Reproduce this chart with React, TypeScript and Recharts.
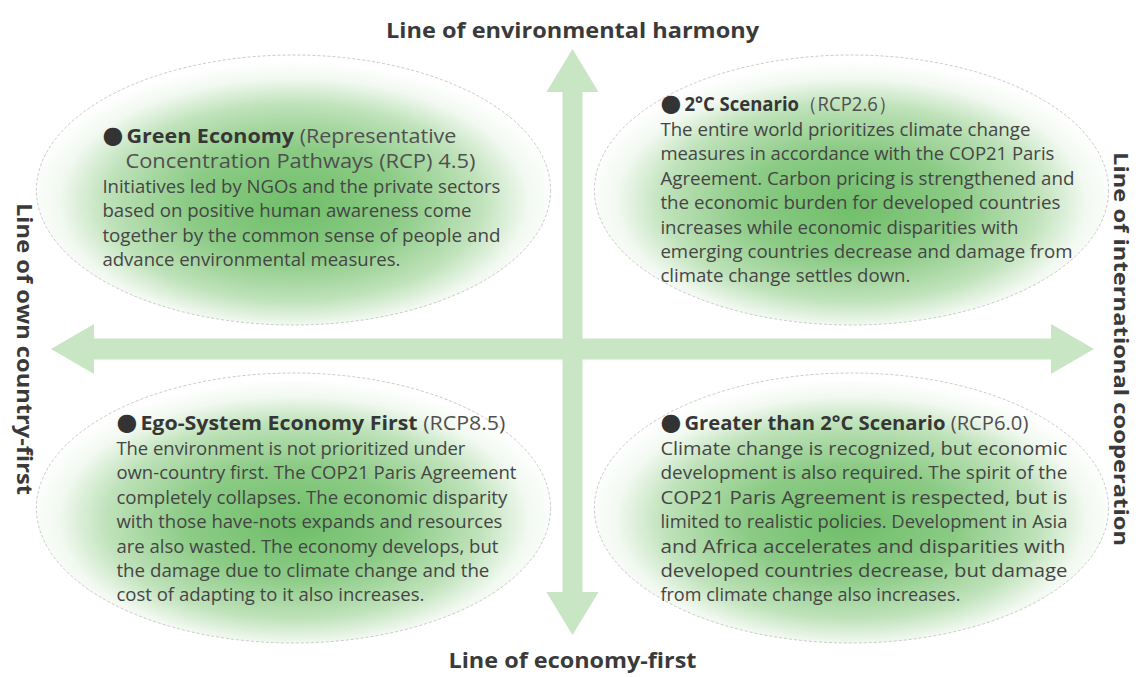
import React from 'react';
import { ScatterChart, XAxis, YAxis, ReferenceArea } from 'recharts';

// ---------------- data ----------------
const axisTopLabel = 'Line of environmental harmony';
const axisBottomLabel = 'Line of economy-first';
const axisLeftLabel = 'Line of own country-first';
const axisRightLabel = 'Line of international cooperation';

// quadrant placement: sign of x (international cooperation +) and y (environmental harmony +)
const scenarioXSign = [-1, 1, -1, 1];
const scenarioYSign = [1, 1, -1, -1];
const scenarioTitles = ['Green Economy', '2°C Scenario', 'Ego-System Economy First', 'Greater than 2°C Scenario'];
const scenarioCodes = [' (Representative', '（RCP2.6）', ' (RCP8.5)', ' (RCP6.0)'];
const scenarioSubtitles = ['Concentration Pathways (RCP) 4.5)', '', '', ''];
const scenarioBodies = [
  [
    'Initiatives led by NGOs and the private sectors',
    'based on positive human awareness come',
    'together by the common sense of people and',
    'advance environmental measures.',
  ],
  [
    'The entire world prioritizes climate change',
    'measures in accordance with the COP21 Paris',
    'Agreement. Carbon pricing is strengthened and',
    'the economic burden for developed countries',
    'increases while economic disparities with',
    'emerging countries decrease and damage from',
    'climate change settles down.',
  ],
  [
    'The environment is not prioritized under',
    'own-country first. The COP21 Paris Agreement',
    'completely collapses. The economic disparity',
    'with those have-nots expands and resources',
    'are also wasted. The economy develops, but',
    'the damage due to climate change and the',
    'cost of adapting to it also increases.',
  ],
  [
    'Climate change is recognized, but economic',
    'development is also required. The spirit of the',
    'COP21 Paris Agreement is respected, but is',
    'limited to realistic policies. Development in Asia',
    'and Africa accelerates and disparities with',
    'developed countries decrease, but damage',
    'from climate change also increases.',
  ],
];

// ---------------- layout / style ----------------
const W = 1138;
const H = 677;
const MARGIN = { top: 49, right: 44, bottom: 28, left: 51 };
const FONT = "'Open Sans', 'Noto Sans', sans-serif";
const ARROW_COLOR = '#c9e6c4';
const ELLIPSE_CX = 0.535;
const ELLIPSE_CY = 0.53;
const ELLIPSE_RX = 0.493;
const ELLIPSE_RY = 0.45;
const ARROW_BOTTOM = -0.953;
const V_HEAD = 0.05;
const H_HEAD = 0.083;
const LINE_H = 24.4;

const textLayouts = [
  { dx: 66, head: 88, sub: 113, subDx: 23, body: 138, headW: 330, subW: 350, bodyW: [398, 369, 398, 298] },
  { dx: 66, head: 56, sub: 0, subDx: 0, body: 81, headW: 212, subW: 0, bodyW: [370, 394, 414, 400, 358, 412, 250] },
  { dx: 80, head: 57, sub: 0, subDx: 0, body: 82, headW: 365, subW: 0, bodyW: [349, 400, 391, 386, 382, 373, 308] },
  { dx: 66, head: 57, sub: 0, subDx: 0, body: 82, headW: 344, subW: 0, bodyW: [407, 407, 407, 407, 405, 407, 300] },
];

const makeEllipseShape = (i: number) => (props: any) => {
  const { x, y, width, height } = props;
  const L = textLayouts[i];
  const tx = x + L.dx;
  const gid = `scenario-grad-${i}`;
  return (
    <g>
      <defs>
        <radialGradient id={gid} cx="50%" cy="54%" r="52%" fx="50%" fy="56%">
          <stop offset="0%" stopColor="#6fbe69" />
          <stop offset="40%" stopColor="#8ccb86" />
          <stop offset="70%" stopColor="#bfe2ba" />
          <stop offset="88%" stopColor="#f2f9f1" />
          <stop offset="100%" stopColor="#ffffff" />
        </radialGradient>
      </defs>
      <ellipse
        cx={x + width / 2}
        cy={y + height / 2}
        rx={width / 2}
        ry={height / 2}
        fill={`url(#${gid})`}
        stroke="#bdbdbd"
        strokeWidth={0.8}
        strokeDasharray="3 2"
      />
      <text x={tx} y={y + L.head} fontFamily="'DejaVu Sans', sans-serif" fontSize={24} fill="#333">
        ●
      </text>
      <text
        x={tx + 24}
        y={y + L.head}
        fontFamily={FONT}
        fontSize={20}
        textLength={L.headW}
        lengthAdjust="spacingAndGlyphs"
      >
        <tspan fontWeight="bold" fill="#363636">{scenarioTitles[i]}</tspan>
        <tspan fill="#505050">{scenarioCodes[i]}</tspan>
      </text>
      {scenarioSubtitles[i] ? (
        <text
          x={tx + L.subDx}
          y={y + L.sub}
          fontFamily={FONT}
          fontSize={20}
          fill="#505050"
          textLength={L.subW}
          lengthAdjust="spacingAndGlyphs"
        >
          {scenarioSubtitles[i]}
        </text>
      ) : null}
      {scenarioBodies[i].map((line, k) => (
        <text
          key={k}
          x={tx}
          y={y + L.body + k * LINE_H}
          fontFamily={FONT}
          fontSize={18.5}
          fill="#454545"
          textLength={L.bodyW[k]}
          lengthAdjust="spacingAndGlyphs"
        >
          {line}
        </text>
      ))}
    </g>
  );
};

const VerticalArrow = (props: any) => {
  const { x, y, width, height } = props;
  const cx = x + width / 2;
  const headLen = 43;
  const sh = 10;
  const pts = [
    [cx, y],
    [x + width, y + headLen],
    [cx + sh, y + headLen],
    [cx + sh, y + height - headLen],
    [x + width, y + height - headLen],
    [cx, y + height],
    [x, y + height - headLen],
    [cx - sh, y + height - headLen],
    [cx - sh, y + headLen],
    [x, y + headLen],
  ]
    .map((p) => p.join(','))
    .join(' ');
  return (
    <g>
      <polygon points={pts} fill={ARROW_COLOR} />
      <text
        x={cx}
        y={y - 11}
        textAnchor="middle"
        fontFamily={FONT}
        fontWeight="bold"
        fontSize={22}
        fill="#3a3a3a"
        textLength={373}
        lengthAdjust="spacingAndGlyphs"
      >
        {axisTopLabel}
      </text>
      <text
        x={cx}
        y={y + height + 33}
        textAnchor="middle"
        fontFamily={FONT}
        fontWeight="bold"
        fontSize={22}
        fill="#3a3a3a"
        textLength={248}
        lengthAdjust="spacingAndGlyphs"
      >
        {axisBottomLabel}
      </text>
    </g>
  );
};

const HorizontalArrow = (props: any) => {
  const { x, y, width, height } = props;
  const cy = y + height / 2;
  const headLen = 43;
  const sh = 10.5;
  const pts = [
    [x, cy],
    [x + headLen, y],
    [x + headLen, cy - sh],
    [x + width - headLen, cy - sh],
    [x + width - headLen, y],
    [x + width, cy],
    [x + width - headLen, y + height],
    [x + width - headLen, cy + sh],
    [x + headLen, cy + sh],
    [x + headLen, y + height],
  ]
    .map((p) => p.join(','))
    .join(' ');
  const lx = x - 34;
  const rx = x + width + 20;
  return (
    <g>
      <polygon points={pts} fill={ARROW_COLOR} />
      <text
        x={lx}
        y={cy}
        transform={`rotate(90, ${lx}, ${cy})`}
        textAnchor="middle"
        fontFamily={FONT}
        fontWeight="bold"
        fontSize={21}
        fill="#3a3a3a"
        textLength={292}
        lengthAdjust="spacingAndGlyphs"
      >
        {axisLeftLabel}
      </text>
      <text
        x={rx}
        y={cy}
        transform={`rotate(90, ${rx}, ${cy})`}
        textAnchor="middle"
        fontFamily={FONT}
        fontWeight="bold"
        fontSize={20}
        fill="#3a3a3a"
        textLength={394}
        lengthAdjust="spacingAndGlyphs"
      >
        {axisRightLabel}
      </text>
    </g>
  );
};

export default function App() {
  return (
    <div style={{ position: 'absolute', left: 0, top: 0, width: W, height: H, background: '#fff' }}>
      <ScatterChart width={W} height={H} margin={MARGIN}>
        <XAxis type="number" dataKey="x" domain={[-1, 1]} allowDataOverflow hide />
        <YAxis type="number" dataKey="y" domain={[-1, 1]} allowDataOverflow hide />
        {scenarioTitles.map((_, i) => {
          const cx = scenarioXSign[i] * ELLIPSE_CX;
          const cy = scenarioYSign[i] * ELLIPSE_CY;
          return (
            <ReferenceArea
              key={`sc-${i}`}
              x1={cx - ELLIPSE_RX}
              x2={cx + ELLIPSE_RX}
              y1={cy - ELLIPSE_RY}
              y2={cy + ELLIPSE_RY}
              shape={makeEllipseShape(i)}
              ifOverflow="visible"
            />
          );
        })}
        <ReferenceArea x1={-1} x2={1} y1={-H_HEAD} y2={H_HEAD} shape={HorizontalArrow} ifOverflow="visible" />
        <ReferenceArea x1={-V_HEAD} x2={V_HEAD} y1={ARROW_BOTTOM} y2={1} shape={VerticalArrow} ifOverflow="visible" />
      </ScatterChart>
    </div>
  );
}
